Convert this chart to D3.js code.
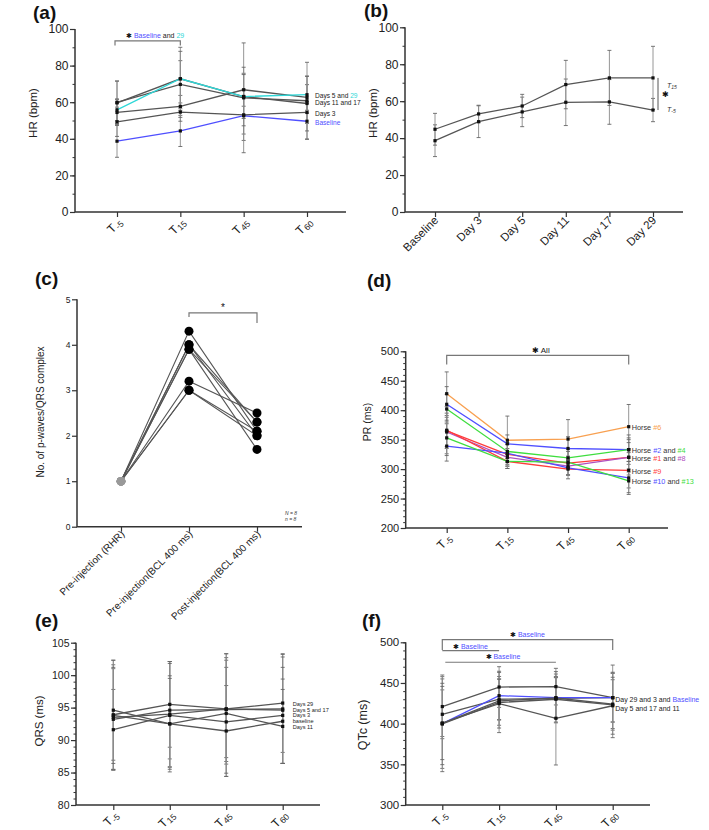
<!DOCTYPE html>
<html><head><meta charset="utf-8">
<script src="https://cdn.jsdelivr.net/npm/d3@7"></script>
<style>
body{margin:0;background:#fff}
svg{display:block}
text{font-family:Arial,"Liberation Sans",Helvetica,sans-serif}
</style>
</head><body>
<svg id="chart" width="709" height="830"></svg>
<script>
// ---------------- DATA ----------------
const T_CATS = ["-5", "15", "45", "60"];

// (a) HR (bpm) by time point, one series per day
const aNames = ["Baseline", "Day 3", "Day 5", "Day 11", "Day 17", "Day 29"];
const aMeans = [
  [38.7, 44.3, 52.6, 49.6],
  [49.3, 54.6, 53.1, 54.4],
  [54.4, 57.7, 66.8, 62.6],
  [59.9, 69.7, 62.4, 60.8],
  [59.6, 72.8, 63.1, 59.3],
  [55.8, 72.8, 63.1, 64.1]
];
const aSD = [
  [8.8, 8.5, 10, 9.8],
  [8, 5, 14, 6],
  [7, 6, 9, 7],
  [11.6, 13, 30, 21],
  [12, 17.2, 16, 15],
  [6, 15, 12, 10]
];
const aLabelVals = [64.2, 60.0, 54.1, 49.2];

// (b) HR (bpm) by day, two series (T-5, T15)
const bCats = ["Baseline", "Day 3", "Day 5", "Day 11", "Day 17", "Day 29"];
const bTm5 = [38.6, 48.9, 54.2, 59.4, 59.6, 55.2];
const bTm5SD = [8.6, 8.6, 8.0, 12.6, 12.1, 6.3];
const bT15 = [44.8, 53.1, 57.4, 69.0, 72.6, 72.6];
const bT15SD = [8.6, 4.7, 6.3, 13.1, 14.9, 17.1];

// (c) No. of p-waves / QRS complex, 8 horses
const cCats = ["Pre-injection (RHR)", "Pre-injection(BCL 400 ms)", "Post-injection(BCL 400 ms)"];
const cRHR = [1, 1, 1, 1, 1, 1, 1, 1];
const cPre = [4.3, 4.0, 3.9, 3.9, 3.2, 3.0, 3.0, 4.0];
const cPost = [2.1, 2.0, 1.7, 2.3, 2.5, 2.1, 2.0, 2.3];

// (d) PR (ms) per horse
const dHorses = ["#6", "#2", "#4", "#1", "#8", "#9", "#10", "#13"];
const dMeans = [
  [428, 349, 351, 372],
  [410, 343, 335, 333],
  [402, 330, 319, 333],
  [365, 325, 310, 320],
  [363, 320, 305, 320],
  [366, 313, 300, 298],
  [339, 327, 302, 285],
  [353, 313, 312, 280]
];
const dSD = [
  [37, 41, 33, 37.7],
  [30, 15, 20, 25],
  [25, 12, 15, 20],
  [30, 20, 20, 30],
  [25, 15, 15, 25],
  [40, 12, 16.5, 30],
  [25.4, 15, 12, 28],
  [30, 12, 10, 20]
];
const dLabelVals = [371, 332.4, 319.4, 297.3, 279.8];

// (e) QRS (ms)
const eNames = ["Days 29", "Days 5", "Days 17", "Days 3", "baseline", "Days 11"];
const eMeans = [
  [93.9, 95.5, 94.8, 95.7],
  [93.2, 94.6, 94.7, 94.8],
  [93.5, 94.0, 94.8, 94.6],
  [91.6, 93.8, 92.8, 93.8],
  [94.6, 92.5, 91.4, 92.9],
  [93.8, 92.5, 94.1, 92.1]
];
const eSD = [
  [8.4, 6.6, 8.5, 7.6],
  [7.8, 7.5, 8.0, 8.4],
  [8.1, 8.1, 7.5, 8.2],
  [6.2, 8.0, 8.4, 7.4],
  [7.7, 7.4, 7.0, 6.5],
  [7.4, 7.0, 9.2, 5.7]
];
const eLabels = ["Days 29", "Days 5 and 17", "Days 3", "baseline", "Days 11"];
const eLabelVals = [95.6, 94.7, 93.8, 92.95, 92.0];

// (f) QTc (ms)
const fNames = ["Day 29", "Day 3", "Baseline", "Day 5", "Day 17", "Day 11"];
const fMeans = [
  [421, 445, 445.5, 432],
  [411.5, 430, 431, 432],
  [400, 434.4, 432, 432],
  [400.4, 428, 431.5, 424],
  [399.6, 426, 430, 423],
  [400.8, 424.6, 406.6, 422]
];
const fSD = [
  [36.8, 25, 22.5, 40],
  [30, 25, 30, 30],
  [55, 30, 25, 30],
  [59.4, 30, 25, 30],
  [50, 37, 28, 40.2],
  [45, 30, 57.4, 35]
];
const fLabelVals = [430.3, 419.6];

// ---------------- STYLE ----------------
const GREY = "#555";
const BLUE = "#4f4fff";
const CYAN = "#2fd8d8";
const ORANGE = "#f8a050";
const GREEN = "#3fdd3f";
const RED = "#ff3b3b";
const PURPLE = "#b050c0";
const EB = "#8a8a8a";

const svg = d3.select("#chart");

function panel(cfg) {
  const y = d3.scaleLinear().domain(cfg.yDomain).range([cfg.bottom, cfg.top]);
  const x = d3.scalePoint().domain(cfg.cats).range([cfg.x0, cfg.x1]);
  const g = svg.append("g");
  if (cfg.minor) {
    const minor = d3.range(cfg.yDomain[0], cfg.yDomain[1] + 1e-9, cfg.minor);
    g.append("g").attr("transform", `translate(${cfg.ax},0)`)
      .call(d3.axisLeft(y).tickValues(minor).tickSize(2.5).tickFormat(""))
      .call(s => s.select(".domain").remove())
      .call(s => s.selectAll("line").attr("stroke", "#333"));
  }
  g.append("g").attr("transform", `translate(${cfg.ax},0)`)
    .call(d3.axisLeft(y).tickValues(cfg.yTicks).tickSize(5).tickPadding(1.5).tickFormat(d3.format("d")))
    .call(s => s.select(".domain").remove())
    .call(s => s.selectAll("line").attr("stroke", "#333").attr("stroke-width", 1.2))
    .call(s => s.selectAll("text").attr("font-size", cfg.tf).attr("fill", "#222"));
  g.append("g").attr("transform", `translate(0,${cfg.bottom})`)
    .call(d3.axisBottom(x).tickSize(5).tickFormat(""))
    .call(s => s.select(".domain").remove())
    .call(s => s.selectAll("line").attr("stroke", "#333").attr("stroke-width", 1.2));
  g.append("path")
    .attr("d", `M${cfg.ax},${cfg.top}V${cfg.bottom}H${cfg.axEnd}`)
    .attr("fill", "none").attr("stroke", "#333").attr("stroke-width", 1.5);
  svg.append("text").attr("x", cfg.tx).attr("y", cfg.ty).attr("font-size", 19)
    .attr("font-weight", "bold").attr("fill", "#111").text(cfg.title);
  svg.append("text").attr("transform", `translate(${cfg.ylx},${cfg.yly}) rotate(-90)`)
    .attr("text-anchor", "middle").attr("dominant-baseline", "central")
    .attr("font-size", cfg.ylf).attr("fill", "#222").text(cfg.ylabel);
  return { x, y, g, cfg };
}

// rotated "T" + subscript labels, drawn as two texts in one rotated group
function tLabels(p, fs, dx, dy) {
  p.cfg.cats.forEach(c => {
    const gg = p.g.append("g")
      .attr("transform", `translate(${p.x(c) + dx},${p.cfg.bottom + dy}) rotate(-45)`);
    const sub = gg.append("text").attr("text-anchor", "end").attr("y", fs * 0.15)
      .attr("font-size", fs * 0.72).attr("fill", "#222").text(c);
    const w = sub.node().getComputedTextLength();
    gg.append("text").attr("text-anchor", "end").attr("x", -w - 0.6)
      .attr("font-size", fs).attr("fill", "#222").text("T");
  });
}

function textLabels(p, fs, dx, dy) {
  p.cfg.cats.forEach(c => {
    p.g.append("text")
      .attr("transform", `translate(${p.x(c) + dx},${p.cfg.bottom + dy}) rotate(-45)`)
      .attr("text-anchor", "end").attr("font-size", fs).attr("fill", "#222").text(c);
  });
}

function errorBars(p, cats, means, sds) {
  means.forEach((m, i) => m.forEach((v, j) => {
    const xx = p.x(cats[j]);
    const lo = p.y(v - sds[i][j]), hi = p.y(v + sds[i][j]);
    p.g.append("line").attr("x1", xx).attr("x2", xx).attr("y1", lo).attr("y2", hi)
      .attr("stroke", EB).attr("stroke-width", 0.9);
    [lo, hi].forEach(yy => p.g.append("line").attr("x1", xx - 2).attr("x2", xx + 2)
      .attr("y1", yy).attr("y2", yy).attr("stroke", "#666").attr("stroke-width", 0.9));
  }));
}

function seriesLines(p, cats, means, colors) {
  const line = d3.line().x((d, j) => p.x(cats[j])).y(d => p.y(d));
  means.forEach((m, i) => {
    p.g.append("path").attr("d", line(m)).attr("fill", "none")
      .attr("stroke", colors[i]).attr("stroke-width", 1.3);
  });
  means.forEach(m => m.forEach((v, j) => {
    p.g.append("rect").attr("x", p.x(cats[j]) - 1.6).attr("y", p.y(v) - 1.6)
      .attr("width", 3.2).attr("height", 3.2).attr("fill", "#111");
  }));
}

function richText(g, x, y, fs, parts, anchor) {
  const t = g.append("text").attr("x", x).attr("y", y).attr("font-size", fs)
    .attr("dominant-baseline", "central").attr("text-anchor", anchor || "start");
  parts.forEach(([s, c]) => t.append("tspan").attr("fill", c).text(s));
  return t;
}

function bracket(p, x1, x2, yv, l1, l2) {
  p.g.append("path")
    .attr("d", `M${x1},${p.y(l1)}V${p.y(yv)}H${x2}V${p.y(l2)}`)
    .attr("fill", "none").attr("stroke", "#777").attr("stroke-width", 1.2);
}

// ---------------- (a) ----------------
{
  const p = panel({ yDomain: [0, 100], bottom: 212, top: 29, cats: T_CATS, x0: 117, x1: 307,
    ax: 75, axEnd: 346, yTicks: [0, 20, 40, 60, 80, 100], minor: 10, tf: 12,
    title: "(a)", tx: 33, ty: 19, ylabel: "HR (bpm)", ylx: 33, yly: 113, ylf: 11.5 });
  const colors = [BLUE, GREY, GREY, GREY, GREY, CYAN];
  errorBars(p, T_CATS, aMeans, aSD);
  seriesLines(p, T_CATS, aMeans, colors);
  tLabels(p, 12, 6, 11);
  bracket(p, p.x("-5") - 2, p.x("15"), 93.5, 91, 91);
  richText(p.g, 126, 34.5, 7, [["✱ ", "#111"], ["Baseline", BLUE], [" and ", "#222"], ["29", CYAN]]);
  const lx = 315;
  richText(p.g, lx, p.y(aLabelVals[0]), 6.6, [["Days 5 and ", "#222"], ["29", CYAN]]);
  richText(p.g, lx, p.y(aLabelVals[1]), 6.6, [["Days 11 and 17", "#222"]]);
  richText(p.g, lx, p.y(aLabelVals[2]), 6.6, [["Days  3", "#222"]]);
  richText(p.g, lx, p.y(aLabelVals[3]), 6.6, [["Baseline", BLUE]]);
}

// ---------------- (b) ----------------
{
  const p = panel({ yDomain: [0, 100], bottom: 212, top: 27.3, cats: bCats, x0: 435, x1: 653,
    ax: 405, axEnd: 683, yTicks: [0, 20, 40, 60, 80, 100], minor: 10, tf: 12,
    title: "(b)", tx: 364, ty: 17, ylabel: "HR (bpm)", ylx: 373, yly: 113, ylf: 11.5 });
  errorBars(p, bCats, [bTm5, bT15], [bTm5SD, bT15SD]);
  seriesLines(p, bCats, [bTm5, bT15], [GREY, GREY]);
  textLabels(p, 11.5, 4, 9);
  const last = bCats[bCats.length - 1];
  const vx = p.x(last) + 5;
  p.g.append("line").attr("x1", vx).attr("x2", vx)
    .attr("y1", p.y(bT15[bT15.length - 1])).attr("y2", p.y(bTm5[bTm5.length - 1]))
    .attr("stroke", "#555").attr("stroke-width", 1);
  p.g.append("text").attr("x", vx + 4).attr("y", 94).attr("dominant-baseline", "central")
    .attr("font-size", 8).attr("fill", "#111").text("✱");
  [[bT15, "15", 85], [bTm5, "-5", 109]].forEach(([arr, s, yy]) => {
    const t = p.g.append("text").attr("x", vx + 9).attr("y", yy).attr("font-size", 7)
      .attr("font-style", "italic").attr("fill", "#333").attr("dominant-baseline", "central");
    t.append("tspan").text("T");
    t.append("tspan").attr("font-size", 5).attr("dy", 2).text(s);
  });
}

// ---------------- (c) ----------------
{
  const p = panel({ yDomain: [0, 5], bottom: 526.7, top: 299.3, cats: cCats, x0: 121, x1: 257,
    ax: 77, axEnd: 302, yTicks: [0, 1, 2, 3, 4, 5], minor: 0, tf: 8.5,
    title: "(c)", tx: 35, ty: 285, ylabel: "No. of p-waves/QRS complex", ylx: 40.5, yly: 412, ylf: 10 });
  const line = d3.line().x((d, j) => p.x(cCats[j])).y(d => p.y(d));
  cRHR.forEach((v, i) => {
    p.g.append("path").attr("d", line([cRHR[i], cPre[i], cPost[i]]))
      .attr("fill", "none").attr("stroke", "#555").attr("stroke-width", 1.1);
  });
  cRHR.forEach(v => p.g.append("circle").attr("cx", p.x(cCats[0])).attr("cy", p.y(v)).attr("r", 4.3).attr("fill", "#999"));
  cPre.forEach(v => p.g.append("circle").attr("cx", p.x(cCats[1])).attr("cy", p.y(v)).attr("r", 4.5).attr("fill", "#000"));
  cPost.forEach(v => p.g.append("circle").attr("cx", p.x(cCats[2])).attr("cy", p.y(v)).attr("r", 4.5).attr("fill", "#000"));
  textLabels(p, 10, 4, 8);
  bracket(p, p.x(cCats[1]), p.x(cCats[2]), 4.70, 4.61, 4.48);
  p.g.append("text").attr("x", (p.x(cCats[1]) + p.x(cCats[2])) / 2).attr("y", 311)
    .attr("text-anchor", "middle").attr("font-size", 10).attr("fill", "#111").text("*");
  p.g.append("text").attr("x", 285).attr("y", 515).attr("font-size", 5).attr("font-style", "italic").attr("fill", "#333").text("N = 8");
  p.g.append("text").attr("x", 285).attr("y", 521).attr("font-size", 5).attr("font-style", "italic").attr("fill", "#333").text("n = 8");
}

// ---------------- (d) ----------------
{
  const p = panel({ yDomain: [200, 500], bottom: 528, top: 351.3, cats: T_CATS, x0: 446.7, x1: 628.7,
    ax: 405.7, axEnd: 668, yTicks: [200, 250, 300, 350, 400, 450, 500], minor: 10, tf: 11,
    title: "(d)", tx: 367, ty: 287, ylabel: "PR (ms)", ylx: 366.5, yly: 422, ylf: 10.5 });
  const colors = [ORANGE, BLUE, GREEN, RED, PURPLE, RED, BLUE, GREEN];
  errorBars(p, T_CATS, dMeans, dSD);
  seriesLines(p, T_CATS, dMeans, colors);
  tLabels(p, 12, 6, 11);
  bracket(p, p.x("-5"), p.x("60"), 493.2, 477.5, 477.5);
  richText(p.g, 532, 349.5, 8, [["✱ ", "#111"], ["All", "#222"]]);
  const lx = p.x("60") + 3;
  const K = "#333";
  richText(p.g, lx, p.y(dLabelVals[0]), 7.3, [["Horse ", K], [dHorses[0], ORANGE]]);
  richText(p.g, lx, p.y(dLabelVals[1]), 7.3, [["Horse ", K], [dHorses[1], BLUE], [" and  ", K], [dHorses[2], GREEN]]);
  richText(p.g, lx, p.y(dLabelVals[2]), 7.3, [["Horse ", K], [dHorses[3], RED], [" and  ", K], [dHorses[4], PURPLE]]);
  richText(p.g, lx, p.y(dLabelVals[3]), 7.3, [["Horse ", K], [dHorses[5], RED]]);
  richText(p.g, lx, p.y(dLabelVals[4]), 7.3, [["Horse ", K], [dHorses[6], BLUE], [" and ", K], [dHorses[7], GREEN]]);
}

// ---------------- (e) ----------------
{
  const p = panel({ yDomain: [80, 105], bottom: 805, top: 642.7, cats: T_CATS, x0: 113.3, x1: 282.7,
    ax: 76, axEnd: 320, yTicks: [80, 85, 90, 95, 100, 105], minor: 1, tf: 10.5,
    title: "(e)", tx: 35, ty: 627, ylabel: "QRS (ms)", ylx: 39, yly: 721, ylf: 11.5 });
  errorBars(p, T_CATS, eMeans, eSD);
  seriesLines(p, T_CATS, eMeans, eMeans.map(() => GREY));
  tLabels(p, 12, 6, 11);
  eLabels.forEach((s, i) => richText(p.g, 292.7, p.y(eLabelVals[i]), 5.6, [[s, "#222"]]));
}

// ---------------- (f) ----------------
{
  const p = panel({ yDomain: [300, 500], bottom: 805, top: 642.3, cats: T_CATS, x0: 442.3, x1: 612.7,
    ax: 405.7, axEnd: 650, yTicks: [300, 350, 400, 450, 500], minor: 10, tf: 11.5,
    title: "(f)", tx: 362, ty: 627, ylabel: "QTc (ms)", ylx: 363, yly: 725, ylf: 12.5 });
  const colors = [GREY, GREY, BLUE, GREY, GREY, GREY];
  errorBars(p, T_CATS, fMeans, fSD);
  seriesLines(p, T_CATS, fMeans, colors);
  tLabels(p, 12, 6, 11);
  bracket(p, p.x("-5"), p.x("60"), 503.2, 490.6, 490.6);
  p.g.append("path").attr("d", `M${p.x("-5")},${p.y(489.8)}H${p.x("15")}`)
    .attr("stroke", "#777").attr("stroke-width", 1.2).attr("fill", "none");
  p.g.append("path").attr("d", `M${p.x("-5") + 3},${p.y(475.5)}H${p.x("45")}`)
    .attr("stroke", "#777").attr("stroke-width", 1.2).attr("fill", "none");
  richText(p.g, 510, 634, 7, [["✱ ", "#111"], ["Baseline", BLUE]]);
  richText(p.g, 453, 645.7, 7, [["✱ ", "#111"], ["Baseline", BLUE]]);
  richText(p.g, 485.5, 655.7, 7, [["✱ ", "#111"], ["Baseline", BLUE]]);
  const lx = p.x("60") + 2.5;
  richText(p.g, lx, p.y(fLabelVals[0]), 7, [["Day 29 and 3 and ", "#222"], ["Baseline", BLUE]]);
  richText(p.g, lx, p.y(fLabelVals[1]), 7, [["Day 5 and 17 and 11", "#222"]]);
}
</script>
</body></html>
